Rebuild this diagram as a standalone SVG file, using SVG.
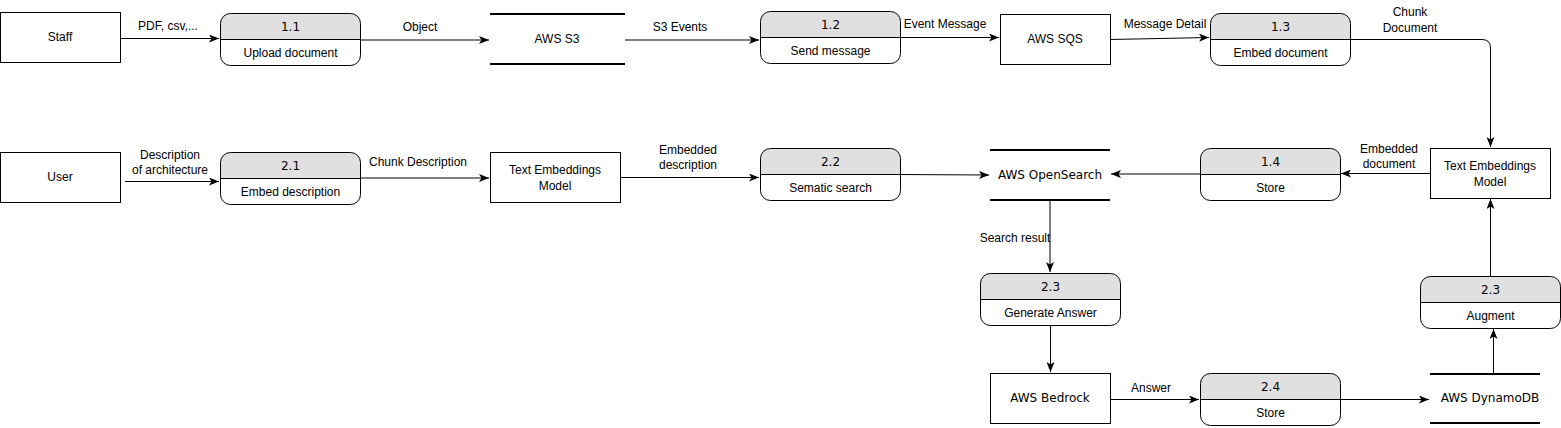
<svg xmlns="http://www.w3.org/2000/svg" xmlns:xlink="http://www.w3.org/1999/xlink" width="1561" height="428" viewBox="0 0 1561 428">
<style>
text{font-family:"Liberation Sans",Arial,sans-serif;font-size:12px;fill:#000;text-anchor:middle;dominant-baseline:central}
.num,.dj{font-family:"DejaVu Sans",Verdana,sans-serif;font-size:12px}
.box{fill:#fff;stroke:#000;stroke-width:1}
.store{stroke:#000;stroke-width:2}
.c{fill:none;stroke:#000;stroke-width:1;marker-end:url(#arr)}
</style>
<defs>
<marker id="arr" viewBox="0 0 10 8" refX="10" refY="4" markerWidth="10" markerHeight="8" orient="auto" markerUnits="userSpaceOnUse">
<path d="M0,0 L10,4 L0,8 L2.5,4 z" fill="#000"/>
</marker>
<g id="proc">
<path d="M0,26 V10 Q0,0 10,0 H130 Q140,0 140,10 V26 Z" fill="#e0e0e0"/>
<rect x="0" y="0" width="140" height="52" rx="10" ry="10" fill="none" stroke="#000"/>
<line x1="0" y1="26" x2="140" y2="26" stroke="#000"/>
</g>
</defs>
<rect width="1561" height="428" fill="#fff"/>

<g id="connectors">
<path class="c" d="M121,38.5 H219"/>
<path class="c" d="M360,40 H489"/>
<path class="c" d="M625,40 H759"/>
<path class="c" d="M900,37.5 H999"/>
<path class="c" d="M1110,39.5 L1209,37.5"/>
<path class="c" d="M1350,39.5 H1482 Q1490.5,39.5 1490.5,48 V147"/>
<path class="c" d="M1430,173.5 H1341"/>
<path class="c" d="M1200,174 H1111"/>
<path class="c" d="M900,174.5 L989,175"/>
<path class="c" d="M621,177.5 H759"/>
<path class="c" d="M360,178 H489"/>
<path class="c" d="M125,181.5 H219"/>
<path class="c" d="M1050,201 V272"/>
<path class="c" d="M1050.5,325 V372"/>
<path class="c" d="M1110,399.5 H1199"/>
<path class="c" d="M1340,399.5 H1429"/>
<path class="c" d="M1493.5,373 V329"/>
<path class="c" d="M1490.5,276 V199"/>
<text x="168" y="26">PDF, csv,...</text>
<text x="420" y="27">Object</text>
<text x="680" y="27">S3 Events</text>
<text x="945" y="24">Event Message</text>
<text x="1165" y="24">Message Detail</text>
<text x="1410" y="12">Chunk</text>
<text x="1410" y="28">Document</text>
<text x="1389" y="149">Embedded</text>
<text x="1389" y="164">document</text>
<text x="688" y="150">Embedded</text>
<text x="688" y="165">description</text>
<text x="418" y="162">Chunk Description</text>
<text x="170" y="155">Description</text>
<text x="170" y="170">of architecture</text>
<text x="1015" y="238">Search result</text>
<text x="1151" y="388">Answer</text>
</g>

<g id="staff"><rect class="box" x="0.5" y="12.5" width="120" height="50"/><text x="60" y="37">Staff</text></g>
<g id="p11" transform="translate(220.5,13.5)"><use xlink:href="#proc"/><text class="num" x="70" y="13">1.1</text><text x="70" y="39">Upload document</text></g>
<g id="s3"><line class="store" x1="490" y1="14" x2="625" y2="14"/><line class="store" x1="490" y1="64" x2="625" y2="64"/><text x="557" y="39">AWS S3</text></g>
<g id="p12" transform="translate(760.5,11.5)"><use xlink:href="#proc"/><text class="num" x="70" y="13">1.2</text><text x="70" y="39">Send message</text></g>
<g id="sqs"><rect class="box" x="1000.5" y="14.5" width="110" height="50"/><text x="1055" y="39">AWS SQS</text></g>
<g id="p13" transform="translate(1210.5,13.5)"><use xlink:href="#proc"/><text class="num" x="70" y="13">1.3</text><text x="70" y="39">Embed document</text></g>

<g id="tem2"><rect class="box" x="1430.5" y="148.5" width="120" height="50"/><text x="1490" y="166">Text Embeddings</text><text x="1490" y="182">Model</text></g>
<g id="p14" transform="translate(1200.5,148.5)"><use xlink:href="#proc"/><text class="num" x="70" y="13">1.4</text><text x="70" y="39">Store</text></g>
<g id="opensearch"><line class="store" x1="990" y1="150" x2="1110" y2="150"/><line class="store" x1="990" y1="200" x2="1110" y2="200"/><text class="dj" x="1050" y="175">AWS OpenSearch</text></g>
<g id="p22" transform="translate(760.5,148.5)"><use xlink:href="#proc"/><text class="num" x="70" y="13">2.2</text><text x="70" y="39">Sematic search</text></g>
<g id="tem1"><rect class="box" x="490.5" y="152.5" width="130" height="50"/><text x="555" y="170">Text Embeddings</text><text x="555" y="186">Model</text></g>
<g id="p21" transform="translate(220.5,152.5)"><use xlink:href="#proc"/><text class="num" x="70" y="13">2.1</text><text x="70" y="39">Embed description</text></g>
<g id="user"><rect class="box" x="0.5" y="152.5" width="120" height="50"/><text x="60" y="177">User</text></g>

<g id="p23g" transform="translate(980.5,273.5)"><use xlink:href="#proc"/><text class="num" x="70" y="13">2.3</text><text x="70" y="39">Generate Answer</text></g>
<g id="bedrock"><rect class="box" x="990.5" y="373.5" width="120" height="50"/><text class="dj" x="1050" y="398">AWS Bedrock</text></g>
<g id="p24" transform="translate(1200.5,373.5)"><use xlink:href="#proc"/><text class="num" x="70" y="13">2.4</text><text x="70" y="39">Store</text></g>
<g id="dynamodb"><line class="store" x1="1430" y1="374" x2="1540" y2="374"/><line class="store" x1="1430" y1="423" x2="1540" y2="423"/><text class="dj" x="1490" y="398">AWS DynamoDB</text></g>
<g id="p23a" transform="translate(1420.5,276.5)"><use xlink:href="#proc"/><text class="num" x="70" y="13">2.3</text><text x="70" y="39">Augment</text></g>
</svg>
